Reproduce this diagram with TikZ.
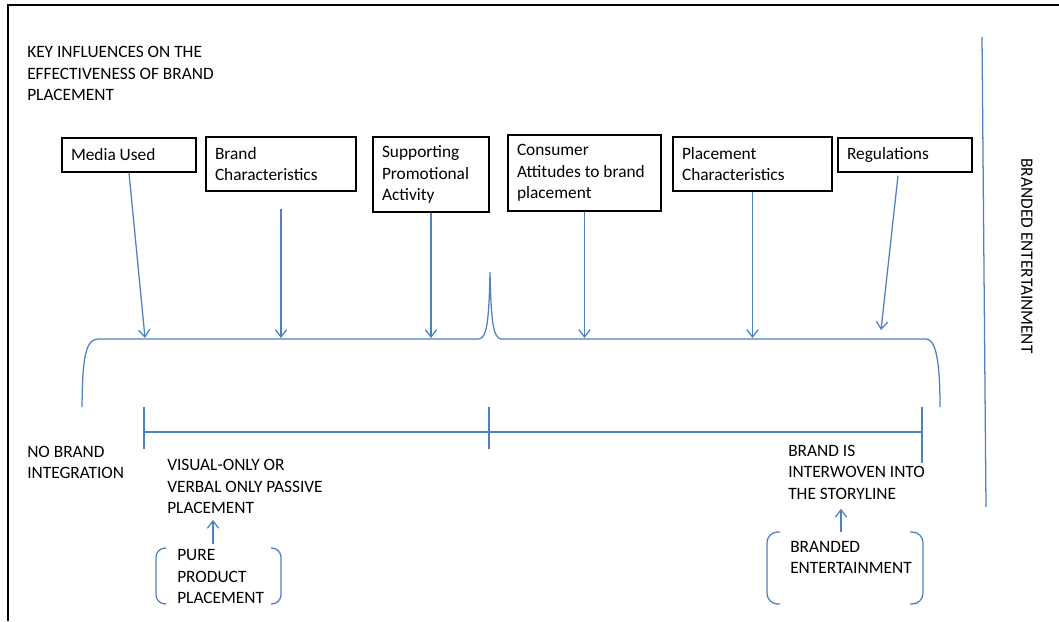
\documentclass[tikz,border=0pt]{standalone}
\usepackage{fontspec}
\setmainfont{Carlito}
\usetikzlibrary{arrows.meta}
\definecolor{lineblue}{HTML}{4F81BD}
\begin{document}
\begin{tikzpicture}[x=0.75pt,y=-0.75pt,
  font=\fontsize{13pt}{16.1pt}\selectfont,
  box/.style={draw=black, line width=0.9pt, rectangle, inner xsep=6.75pt, inner ysep=1pt, align=flush left, text=black},
  arr/.style={draw=lineblue, line width=0.95pt, -{Straight Barb[length=5.5pt,width=8.5pt]}},
  bl/.style={draw=lineblue, line width=0.95pt},
  lbl/.style={align=left, anchor=west, inner sep=0pt, text=black},
  frame/.style={draw=black, line width=1.2pt}]
\useasboundingbox (0,0) rectangle (1059,621);
\draw[frame] (8,621) -- (8,5) -- (1059,5);

% title
\node[lbl] (title) at (27,73.5) {KEY INFLUENCES ON THE\\EFFECTIVENESS OF BRAND\\PLACEMENT};

% influence boxes
\node[box, text width=87pt, minimum height=25.5pt] (media) at (129,155) {Media Used};
\node[box, text width=99pt, minimum height=40.5pt] (brandc) at (281,164) {Brand\\Characteristics};
\node[box, text width=73.5pt, minimum height=56.25pt] (support) at (431,174.5) {Supporting\\Promotional\\Activity};
\node[box, text width=101.25pt, minimum height=57pt] (consumer) at (584.5,173) {Consumer\\Attitudes to brand\\placement};
\node[box, text width=105.75pt, minimum height=40.5pt] (placement) at (752.5,164) {Placement\\Characteristics};
\node[box, text width=87pt, minimum height=25.5pt] (regs) at (905,155) {Regulations};

% arrow targets on the brace
\coordinate (t1) at (145,338);
\coordinate (t6) at (881,330);
\draw[arr] (media.south) -- (t1);
\draw[arr] ([yshift=-12.75pt]brandc.south) -- (brandc.south |- t1);
\draw[arr] (support.south) -- (support.south |- t1);
\draw[arr] (consumer.south) -- (consumer.south |- t1);
\draw[arr] (placement.south) -- (placement.south |- t1);
\draw[arr] ([xshift=-5.25pt,yshift=-2.25pt]regs.south) -- (t6);

% brace
\draw[bl] (82,407) .. controls (82.5,365) and (84,339) .. (98,339)
  -- (479,339) .. controls (487,338) and (489,320) .. (490,272)
  .. controls (491,320) and (493,338) .. (501,339)
  -- (926,339) .. controls (936,339) and (940,362) .. (940,407);

% scale bar
\draw[bl] (144,432) -- (922,432);
\draw[bl] (144,407) -- (144,449);
\draw[bl] (489,407) -- (489,449);
\draw[bl] (922,407) -- (922,463);

% right vertical line and label
\draw[bl] (982,37) -- (986,507);
\node[inner sep=0pt, rotate=-90, text=black] (be) at (1027,256) {BRANDED ENTERTAINMENT};

% lower labels
\node[lbl] (nobrand) at (27,462.5) {NO BRAND\\INTEGRATION};
\node[lbl] (visual) at (167,486.5) {VISUAL-ONLY OR\\VERBAL ONLY PASSIVE\\PLACEMENT};
\node[lbl] (pure) at (177,576.5) {PURE\\PRODUCT\\PLACEMENT};
\node[lbl] (storyline) at (788,472) {BRAND IS\\INTERWOVEN INTO\\THE STORYLINE};
\node[lbl] (branded) at (790,557.5) {BRANDED\\ENTERTAINMENT};

% up arrows
\coordinate (ua) at (213,0);
\coordinate (ub) at (841,0);
\draw[arr, shorten <=4pt, shorten >=4.5pt] (pure.north -| ua) -- (visual.south -| ua);
\draw[arr, shorten <=7pt, shorten >=7pt] (branded.north -| ub) -- (storyline.south -| ub);

% brackets
\draw[bl, rounded corners=7pt] (166,548) -- (156,548) -- (156,604) -- (166,604);
\draw[bl, rounded corners=7pt] (271,548) -- (281,548) -- (281,604) -- (271,604);
\draw[bl, rounded corners=8pt] (780,532) -- (767,532) -- (767,604) -- (780,604);
\draw[bl, rounded corners=8pt] (910,532) -- (923,532) -- (923,604) -- (910,604);
\end{tikzpicture}
\end{document}
